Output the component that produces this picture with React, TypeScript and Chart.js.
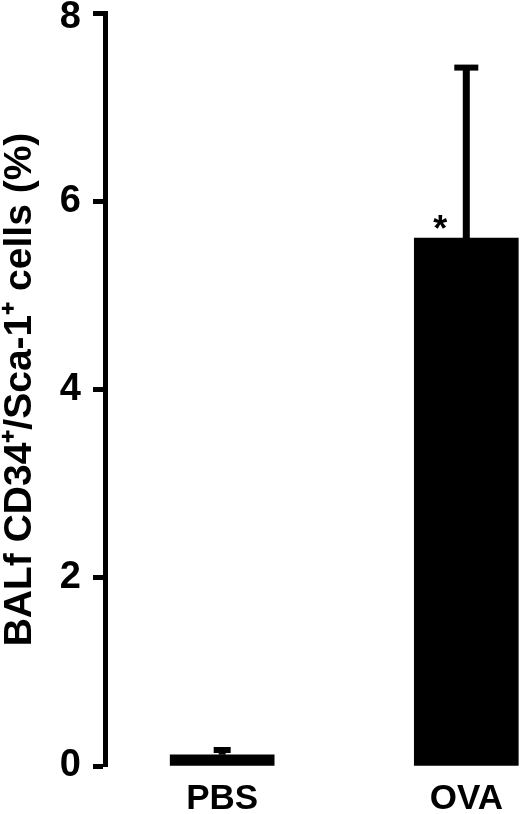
import React, { useEffect, useRef } from 'react';
import { Chart, registerables } from 'chart.js';

Chart.register(...registerables);

const categories: string[] = ['PBS', 'OVA'];
const positions: number[] = [1, 2];
const means: number[] = [0.12, 5.61];
const sems: number[] = [0.05, 1.81];
const significance: string[] = ['', '*'];
const yTicks: number[] = [0, 2, 4, 6, 8];
const yAxisTitle = 'BALf CD34\u207A/Sca-1\u207A cells (%)';

const FONT = "'Liberation Sans', Arial, Helvetica, sans-serif";
const Y_MAX = yTicks[yTicks.length - 1];

const errorBarPlugin = {
  id: 'errorBars',
  afterDatasetsDraw(chart: any, _args: any, opts: any) {
    const { ctx } = chart;
    const xs = chart.scales.x;
    const ys = chart.scales.y;
    ctx.save();
    ctx.strokeStyle = '#000';
    ctx.fillStyle = '#000';
    for (let i = 0; i < means.length; i++) {
      const x = xs.getPixelForValue(positions[i]);
      const yBase = ys.getPixelForValue(means[i]);
      const yTop = ys.getPixelForValue(means[i] + sems[i]);
      const capW = opts.capWidths[i];
      ctx.lineWidth = 7;
      ctx.beginPath();
      ctx.moveTo(x, yBase);
      ctx.lineTo(x, yTop);
      ctx.stroke();
      ctx.lineWidth = 6;
      ctx.beginPath();
      ctx.moveTo(x - capW / 2, yTop);
      ctx.lineTo(x + capW / 2, yTop);
      ctx.stroke();
      if (significance[i]) {
        ctx.font = `bold 36px ${FONT}`;
        ctx.textAlign = 'center';
        ctx.textBaseline = 'alphabetic';
        ctx.fillText(significance[i], x - 26, yBase + 3);
      }
    }
    ctx.restore();
  },
};

export default function App() {
  const ref = useRef<HTMLCanvasElement | null>(null);
  useEffect(() => {
    if (!ref.current) return;
    const chart = new Chart(ref.current, {
      type: 'bar',
      data: {
        datasets: [
          {
            data: positions.map((p, i) => ({ x: p, y: means[i] })),
            backgroundColor: '#000',
            borderWidth: 0,
            barThickness: 104,
          },
        ],
      },
      options: {
        responsive: false,
        animation: false,
        devicePixelRatio: 1,
        layout: { padding: { top: 13, left: 0, right: 0, bottom: 0 } },
        plugins: {
          legend: { display: false },
          tooltip: { enabled: false },
          errorBars: { capWidths: [17, 24] },
        } as any,
        scales: {
          x: {
            type: 'linear',
            offset: false,
            min: 0.52,
            max: 2.22,
            grid: { display: false, offset: false },
            border: { display: false },
            afterBuildTicks: (scale: any) => {
              scale.ticks = positions.map((v) => ({ value: v }));
            },
            afterFit: (scale: any) => {
              scale.height = 48;
              scale.paddingLeft = 0;
              scale.paddingRight = 0;
            },
            ticks: {
              color: '#000',
              font: { family: FONT, size: 35, weight: 'bold' },
              padding: 4,
              maxRotation: 0,
              autoSkip: false,
              callback: (v: any) => {
                const idx = positions.indexOf(Number(v));
                return idx >= 0 ? categories[idx] : '';
              },
            },
          },
          y: {
            type: 'linear',
            min: yTicks[0],
            max: Y_MAX,
            afterBuildTicks: (scale: any) => {
              scale.ticks = yTicks.map((v) => ({ value: v }));
            },
            afterFit: (scale: any) => {
              scale.width = 105;
              scale.paddingTop = 0;
              scale.paddingBottom = 0;
            },
            grid: {
              drawOnChartArea: false,
              drawTicks: true,
              tickLength: 12,
              tickWidth: 5,
              tickColor: '#000',
            },
            border: { display: true, color: '#000', width: 5 },
            ticks: {
              color: '#000',
              font: (c: any) => ({
                family: FONT,
                size: 38,
                weight: 'bold',
                lineHeight: c.tick && c.tick.value === Y_MAX ? 0.25 : 1.2,
              }),
              padding: 12,
              callback: (v: any) => (Number(v) === Y_MAX ? ['', String(v)] : String(v)),
            } as any,
            title: {
              display: true,
              text: yAxisTitle,
              color: '#000',
              font: { family: FONT, size: 39, weight: 'bold', lineHeight: 1 },
              padding: { top: 1, bottom: 0 },
            },
          },
        },
      },
      plugins: [errorBarPlugin],
    });
    return () => chart.destroy();
  }, []);
  return (
    <div style={{ position: 'absolute', left: 0, top: 0, width: 520, height: 814, background: '#fff' }}>
      <canvas ref={ref} width={520} height={814} />
    </div>
  );
}
